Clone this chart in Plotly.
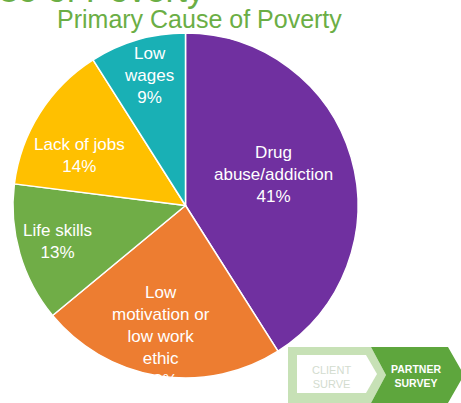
import math
import plotly.graph_objects as go

# Survey results: primary cause of poverty (share of responses, %)
causes = ["Drug<br>abuse/addiction", "Low<br>motivation or<br>low work<br>ethic",
          "Life skills", "Lack of jobs", "Low<br>wages"]
shares = [41, 23, 13, 14, 9]
colors = ["#7030A0", "#ED7D31", "#70AD47", "#FFC000", "#19B0B5"]

# Label placement inside each slice: fraction of the radius, and a small
# angular nudge (degrees) away from the slice bisector
label_radius = [0.54, 0.77, 0.77, 0.68, 0.78]
label_nudge = [-3, 1.5, 0.5, -7, 0.5]

W, H = 461, 403
FONT = "Liberation Sans, Arial, sans-serif"
CX, CY, R = 185.5, 205.5, 172.5  # pie centre and radius, in pixels


def px(x):
    return x / W


def py(y):
    return 1 - y / H


fig = go.Figure(go.Pie(
    labels=causes,
    values=shares,
    sort=False,
    direction="clockwise",
    rotation=0,
    marker=dict(colors=colors, line=dict(color="white", width=1.5)),
    textinfo="none",
    hoverinfo="label+percent",
    showlegend=False,
    domain=dict(x=[px(CX - R), px(CX + R)], y=[py(CY + R), py(CY - R)]),
))

# Slice labels, placed along each slice's bisector (clockwise from 12 o'clock)
annotations = []
total = sum(shares)
cum = 0
for name, v, f, nudge in zip(causes, shares, label_radius, label_nudge):
    mid = (cum + v / 2) / total * 360 + nudge
    cum += v
    theta = math.radians(mid)
    x = CX + f * R * math.sin(theta)
    y = CY - f * R * math.cos(theta)
    annotations.append(dict(
        text=f"{name}<br>{round(100 * v / total)}%", x=px(x), y=py(y),
        xref="paper", yref="paper", xanchor="center", yanchor="middle",
        showarrow=False, font=dict(family=FONT, size=17, color="white")))

# Banner graphic: client survey / partner survey chevrons
def path(points):
    return "M " + " L ".join(f"{px(x):.5f},{py(y):.5f}" for x, y in points) + " Z"


shapes = [
    dict(type="path", xref="paper", yref="paper", line=dict(width=0), fillcolor="#C7E1B6",
         path=path([(288, 347), (371, 347), (386, 375), (371, 403), (288, 403)])),
    dict(type="path", xref="paper", yref="paper", line=dict(width=0), fillcolor="#FFFFFF",
         path=path([(297, 355), (366, 355), (377, 374), (366, 393), (297, 393)])),
    dict(type="path", xref="paper", yref="paper", line=dict(width=0), fillcolor="#5EA63D",
         path=path([(371, 347), (448, 347), (464, 375), (448, 403), (371, 403), (386, 375)])),
]

annotations += [
    dict(text="Cause of Poverty", x=px(207), y=py(-11), xref="paper", yref="paper",
         xanchor="right", yanchor="middle", showarrow=False,
         font=dict(family=FONT, size=35, color="#6BAE45")),
    dict(text="Primary Cause of Poverty", x=px(199), y=py(19), xref="paper", yref="paper",
         xanchor="center", yanchor="middle", showarrow=False,
         font=dict(family=FONT, size=25, color="#6BAE45")),
    dict(text="CLIENT<br>SURVE", x=px(331), y=py(377), xref="paper", yref="paper",
         xanchor="center", yanchor="middle", showarrow=False,
         font=dict(family=FONT, size=11, color="#D3DCCF")),
    dict(text="<b>PARTNER<br>SURVEY</b>", x=px(416), y=py(376), xref="paper", yref="paper",
         xanchor="center", yanchor="middle", showarrow=False,
         font=dict(family=FONT, size=10.5, color="#FFFFFF")),
]

fig.update_layout(
    width=W, height=H,
    margin=dict(l=0, r=0, t=0, b=0),
    paper_bgcolor="white", plot_bgcolor="white",
    shapes=shapes,
    annotations=annotations,
)

fig.write_html("out.html")
